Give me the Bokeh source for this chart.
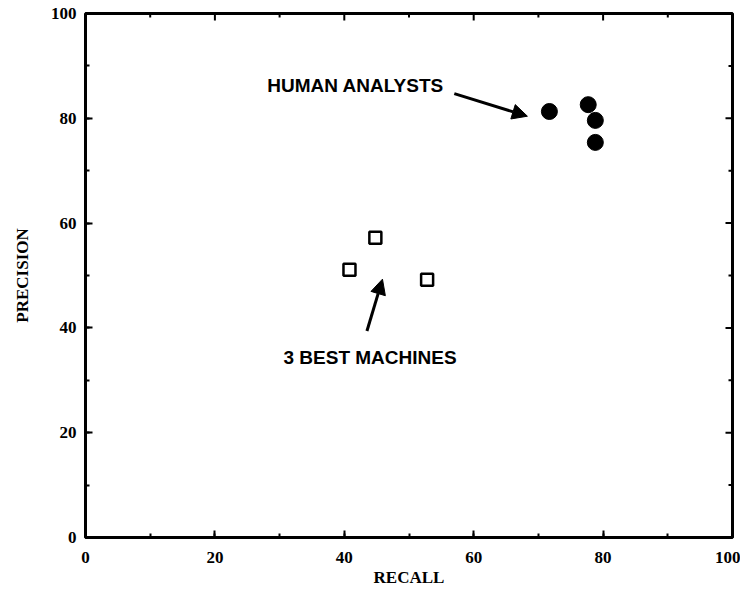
from bokeh.plotting import figure
from bokeh.models import (Range1d, LinearAxis, SingleIntervalTicker, Arrow, NormalHead,
                          ColumnDataSource)
from bokeh.core.properties import value
from bokeh.embed import file_html
from bokeh.resources import INLINE

# Data
human_recall = [71.7, 77.7, 78.8, 78.8]
human_precision = [81.3, 82.6, 79.6, 75.4]
machine_recall = [44.8, 40.8, 52.8]
machine_precision = [57.2, 51.1, 49.2]

# Tick values
major_ticks = [0, 20, 40, 60, 80, 100]
minor_ticks = [10, 30, 50, 70, 90]

# Annotations (data coordinates)
label_texts = ["HUMAN ANALYSTS", "3 BEST MACHINES"]
label_x = [28.1, 30.6]
label_y = [86.3, 34.4]
arrow_x0 = [57.0, 43.5]
arrow_y0 = [84.7, 39.4]
arrow_x1 = [68.3, 45.9]
arrow_y1 = [80.4, 49.3]

SERIF = "Liberation Serif"
SANS = "Liberation Sans"

p = figure(width=740, height=590, output_backend="svg", toolbar_location=None,
           x_range=Range1d(0, 100), y_range=Range1d(0, 100),
           x_axis_location=None, y_axis_location=None,
           min_border_left=85, min_border_right=8, min_border_top=13, min_border_bottom=53)
p.grid.visible = False
p.outline_line_color = "black"
p.outline_line_width = 3
p.background_fill_color = "white"
p.border_fill_color = "white"


def make_axis():
    ax = LinearAxis(ticker=SingleIntervalTicker(interval=20, num_minor_ticks=2))
    ax.axis_line_color = None
    ax.major_tick_in = 7
    ax.major_tick_out = 0
    ax.minor_tick_in = 4
    ax.minor_tick_out = 0
    ax.major_tick_line_width = 2
    ax.minor_tick_line_width = 2
    ax.major_tick_line_color = "black"
    ax.minor_tick_line_color = "black"
    ax.major_label_text_font = SERIF
    ax.major_label_text_font_style = "bold"
    ax.major_label_text_font_size = "17px"
    ax.major_label_text_color = "black"
    ax.axis_label_text_font = SERIF
    ax.axis_label_text_font_style = "bold"
    ax.axis_label_text_font_size = "17px"
    ax.axis_label_text_color = "black"
    return ax


xb = make_axis()
xb.axis_label = "RECALL"
xb.major_label_standoff = 14
xb.axis_label_standoff = 2
p.add_layout(xb, "below")

yl = make_axis()
yl.axis_label = "PRECISION"
yl.major_label_standoff = 9
yl.axis_label_standoff = 16
p.add_layout(yl, "left")

# Mirrored inward ticks on top and right edges
maj_dy, min_dy = 7 / 5.24, 4 / 5.24
maj_dx, min_dx = 7 / 6.47, 4 / 6.47
p.segment(x0=major_ticks, y0=[100] * len(major_ticks), x1=major_ticks,
          y1=[100 - maj_dy] * len(major_ticks), line_color="black", line_width=2)
p.segment(x0=minor_ticks, y0=[100] * len(minor_ticks), x1=minor_ticks,
          y1=[100 - min_dy] * len(minor_ticks), line_color="black", line_width=2)
p.segment(x0=[100] * len(major_ticks), y0=major_ticks, x1=[100 - maj_dx] * len(major_ticks),
          y1=major_ticks, line_color="black", line_width=2)
p.segment(x0=[100] * len(minor_ticks), y0=minor_ticks, x1=[100 - min_dx] * len(minor_ticks),
          y1=minor_ticks, line_color="black", line_width=2)

# Markers
p.scatter(human_recall, human_precision, marker="circle", size=16,
          fill_color="black", line_color="black")
p.scatter(machine_recall, machine_precision, marker="square", size=12,
          fill_color="white", line_color="black", line_width=2.5)

# Arrows
for i in range(len(arrow_x0)):
    p.add_layout(Arrow(end=NormalHead(size=15, fill_color="black", line_color="black"),
                       x_start=arrow_x0[i], y_start=arrow_y0[i],
                       x_end=arrow_x1[i], y_end=arrow_y1[i],
                       line_width=3, line_color="black"))

src = ColumnDataSource(dict(x=label_x, y=label_y, t=label_texts))
p.text(x="x", y="y", text="t", source=src, text_font=value(SANS),
       text_font_style="bold", text_font_size="19px", text_color="black",
       text_align="left", text_baseline="middle")

open("out.html", "w").write(file_html(p, INLINE))
